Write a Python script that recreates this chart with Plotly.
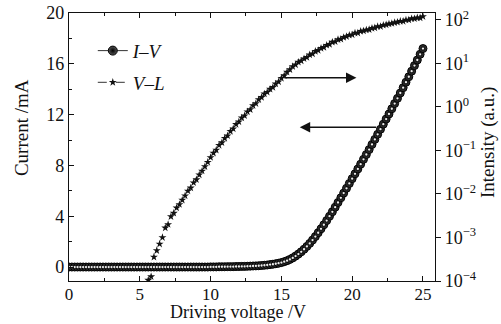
import plotly.graph_objects as go

# ---------------- data ----------------
iv_voltage = [
    0.0, 0.2, 0.4, 0.6, 0.8, 1.0, 1.2, 1.4, 1.6, 1.8,
    2.0, 2.2, 2.4, 2.6, 2.8, 3.0, 3.2, 3.4, 3.6, 3.8,
    4.0, 4.2, 4.4, 4.6, 4.8, 5.0, 5.2, 5.4, 5.6, 5.8,
    6.0, 6.2, 6.4, 6.6, 6.8, 7.0, 7.2, 7.4, 7.6, 7.8,
    8.0, 8.2, 8.4, 8.6, 8.8, 9.0, 9.2, 9.4, 9.6, 9.8,
    10.0, 10.2, 10.4, 10.6, 10.8, 11.0, 11.2, 11.4, 11.6, 11.8,
    12.0, 12.2, 12.4, 12.6, 12.8, 13.0, 13.2, 13.4, 13.6, 13.8,
    14.0, 14.2, 14.4, 14.6, 14.8, 15.0, 15.2, 15.4, 15.6, 15.8,
    16.0, 16.2, 16.4, 16.6, 16.8, 17.0, 17.2, 17.4, 17.6, 17.8,
    18.0, 18.2, 18.4, 18.6, 18.8, 19.0, 19.2, 19.4, 19.6, 19.8,
    20.0, 20.2, 20.4, 20.6, 20.8, 21.0, 21.2, 21.4, 21.6, 21.8,
    22.0, 22.2, 22.4, 22.6, 22.8, 23.0, 23.2, 23.4, 23.6, 23.8,
    24.0, 24.2, 24.4, 24.6, 24.8, 25.0,
]
iv_current = [
    0.0, 0.0, 0.0, 0.0, 0.0, 0.0, 0.0, 0.0, 0.0, 0.0,
    0.0, 0.0, 0.0, 0.0, 0.0, 0.0, 0.0, 0.0, 0.0, 0.0,
    0.0, 0.0, 0.0, 0.0, 0.0, 0.0, 0.0, 0.0, 0.0, 0.0,
    0.0, 0.0, 0.0, 0.0, 0.0, 0.0, 0.0, 0.0, 0.0, 0.0,
    0.0, 0.0, 0.0, 0.0, 0.0, 0.0, 0.0, 0.0, 0.0, 0.0,
    0.01, 0.01, 0.01, 0.02, 0.02, 0.02, 0.03, 0.03, 0.03, 0.04,
    0.04, 0.05, 0.05, 0.06, 0.07, 0.08, 0.09, 0.10, 0.12, 0.14,
    0.16, 0.19, 0.22, 0.26, 0.30, 0.35, 0.42, 0.50, 0.60, 0.72,
    0.86, 1.02, 1.20, 1.40, 1.62, 1.86, 2.12, 2.40, 2.70, 3.01,
    3.33, 3.66, 4.00, 4.35, 4.71, 5.08, 5.45, 5.82, 6.20, 6.58,
    6.96, 7.34, 7.72, 8.10, 8.48, 8.86, 9.25, 9.65, 10.05, 10.45,
    10.85, 11.25, 11.65, 12.05, 12.46, 12.87, 13.28, 13.70, 14.12, 14.55,
    14.98, 15.42, 15.86, 16.30, 16.75, 17.20,
]

vl_voltage = [
    5.6, 5.8,
    6.0, 6.2, 6.4, 6.6, 6.8, 7.0, 7.2, 7.4, 7.6, 7.8,
    8.0, 8.2, 8.4, 8.6, 8.8, 9.0, 9.2, 9.4, 9.6, 9.8,
    10.0, 10.2, 10.4, 10.6, 10.8, 11.0, 11.2, 11.4, 11.6, 11.8,
    12.0, 12.2, 12.4, 12.6, 12.8, 13.0, 13.2, 13.4, 13.6, 13.8,
    14.0, 14.2, 14.4, 14.6, 14.8, 15.0, 15.2, 15.4, 15.6, 15.8,
    16.0, 16.2, 16.4, 16.6, 16.8, 17.0, 17.2, 17.4, 17.6, 17.8,
    18.0, 18.2, 18.4, 18.6, 18.8, 19.0, 19.2, 19.4, 19.6, 19.8,
    20.0, 20.2, 20.4, 20.6, 20.8, 21.0, 21.2, 21.4, 21.6, 21.8,
    22.0, 22.2, 22.4, 22.6, 22.8, 23.0, 23.2, 23.4, 23.6, 23.8,
    24.0, 24.2, 24.4, 24.6, 24.8, 25.0,
]
# log10 of intensity (a.u.)
vl_log_intensity = [
    -3.98, -3.90,
    -3.45, -3.30, -3.15, -3.00, -2.78, -2.70, -2.52, -2.44, -2.32, -2.24,
    -2.14, -2.04, -1.93, -1.86, -1.74, -1.67, -1.56, -1.47, -1.37, -1.27,
    -1.16, -1.06, -0.99, -0.88, -0.82, -0.72, -0.66, -0.56, -0.50, -0.40,
    -0.34, -0.25, -0.20, -0.11, -0.06, 0.03, 0.08, 0.17, 0.22, 0.30,
    0.34, 0.41, 0.45, 0.53, 0.58, 0.66, 0.72, 0.80, 0.86, 0.93,
    0.97, 1.03, 1.06, 1.11, 1.14, 1.20, 1.22, 1.28, 1.30, 1.35,
    1.37, 1.42, 1.44, 1.49, 1.50, 1.55, 1.56, 1.60, 1.62, 1.65,
    1.66, 1.70, 1.70, 1.74, 1.75, 1.77, 1.78, 1.81, 1.82, 1.85,
    1.85, 1.88, 1.89, 1.91, 1.92, 1.94, 1.95, 1.97, 1.97, 2.00,
    2.00, 2.03, 2.03, 2.05, 2.05, 2.08,
]
vl_intensity = [10 ** v for v in vl_log_intensity]

x_ticks = [0, 5, 10, 15, 20, 25]
y_ticks = [0, 4, 8, 12, 16, 20]
y2_tickvals = [1e-4, 1e-3, 1e-2, 1e-1, 1e0, 1e1, 1e2]
y2_ticktext = ["10<sup>−4</sup>", "10<sup>−3</sup>", "10<sup>−2</sup>", "10<sup>−1</sup>",
               "10<sup>0</sup>", "10<sup>1</sup>", "10<sup>2</sup>"]

x_title = "Driving voltage /V"
y_title = "Current /mA"
y2_title = "Intensity (a.u.)"

FONT = "Liberation Serif"
INK = "#111111"

fig = go.Figure()

# I-V: dark balls with a light highlight
fig.add_trace(go.Scatter(
    x=iv_voltage, y=iv_current, mode="markers", showlegend=False,
    marker=dict(symbol="circle", size=8, color="#3a3a3a",
                gradient=dict(type="radial", color="#000000"),
                line=dict(color="#000000", width=1)),
))
fig.add_trace(go.Scatter(
    x=iv_voltage, y=iv_current, mode="markers", showlegend=False, hoverinfo="skip",
    marker=dict(symbol="circle", size=2.3, color="#eeeeee", line=dict(width=0)),
))
# V-L
fig.add_trace(go.Scatter(
    x=vl_voltage, y=vl_intensity, mode="markers", showlegend=False, yaxis="y2",
    marker=dict(symbol="star", size=6, color=INK, line=dict(width=0)),
))

# legend entries
fig.add_trace(go.Scatter(
    x=[None], y=[None], mode="lines+markers", name="<i>I</i>–<i>V</i>",
    legendgroup="iv",
    line=dict(color="#333333", width=1),
    marker=dict(symbol="circle", size=9, color="#555555",
                gradient=dict(type="radial", color="#000000"),
                line=dict(color="#000000", width=1)),
))
fig.add_trace(go.Scatter(
    x=[None], y=[None], mode="lines+markers", name="<i>V</i>–<i>L</i>",
    legendgroup="vl",
    line=dict(color="#333333", width=1, dash="dash"),
    marker=dict(symbol="star", size=6, color=INK),
))

# arrows
fig.add_annotation(x=20.3, y=14.9, ax=15.1, ay=14.9, xref="x", yref="y",
                   axref="x", ayref="y", showarrow=True, arrowhead=2,
                   arrowsize=1.3, arrowwidth=1.6, arrowcolor=INK, text="")
fig.add_annotation(x=16.3, y=11.0, ax=21.8, ay=11.0, xref="x", yref="y",
                   axref="x", ayref="y", showarrow=True, arrowhead=2,
                   arrowsize=1.3, arrowwidth=1.6, arrowcolor=INK, text="")

axis_font = dict(family=FONT, size=18, color=INK)
title_font = dict(family=FONT, size=19, color=INK)

# axis titles
fig.add_annotation(text=x_title, xref="paper", yref="paper", x=0.462, y=-0.16,
                   xanchor="center", yanchor="bottom", showarrow=False,
                   font=dict(family=FONT, size=18, color=INK))
fig.add_annotation(text=y_title, xref="paper", yref="paper", x=-0.128, y=0.571,
                   xanchor="center", yanchor="middle", showarrow=False, textangle=-90,
                   font=title_font)
fig.add_annotation(text=y2_title, xref="paper", yref="paper", x=1.145, y=0.515,
                   xanchor="center", yanchor="middle", showarrow=False, textangle=-90,
                   font=title_font)

fig.update_layout(
    width=501, height=324,
    margin=dict(l=69, r=66, t=13, b=43, autoexpand=False),
    paper_bgcolor="white", plot_bgcolor="white",
    font=dict(family=FONT, size=17, color=INK),
    showlegend=True,
    legend=dict(x=0.065, y=0.93, xanchor="left", yanchor="top",
                bgcolor="rgba(0,0,0,0)", font=dict(family=FONT, size=19),
                itemwidth=30, tracegroupgap=4, traceorder="grouped"),
    xaxis=dict(
        range=[0, 25.85], tickvals=x_ticks, ticks="inside", ticklen=5,
        tickwidth=1, tickcolor=INK, automargin=False, ticklabelstandoff=-3,
        showline=True, linecolor=INK, linewidth=1.3, mirror="ticks",
        showgrid=False, zeroline=False, tickfont=dict(family=FONT, size=17, color=INK),
        minor=dict(dtick=2.5, tick0=0, ticks="inside", ticklen=3, tickcolor=INK, showgrid=False),
    ),
    yaxis=dict(
        range=[-1.1, 20], tickvals=y_ticks, ticks="inside", ticklen=5,
        tickwidth=1, tickcolor=INK, automargin=False,
        showline=True, linecolor=INK, linewidth=1.3,
        showgrid=False, zeroline=False, tickfont=axis_font,
        minor=dict(dtick=2, tick0=0, ticks="inside", ticklen=3, tickcolor=INK, showgrid=False),
    ),
    yaxis2=dict(
        type="log", range=[-4, 2.16], overlaying="y", side="right",
        tickvals=y2_tickvals, ticktext=y2_ticktext, ticks="outside", ticklen=5,
        tickwidth=1, tickcolor=INK, automargin=False,
        showline=True, linecolor=INK, linewidth=1.3,
        showgrid=False, zeroline=False, tickfont=axis_font,
    ),
)

fig.write_html("out.html")
